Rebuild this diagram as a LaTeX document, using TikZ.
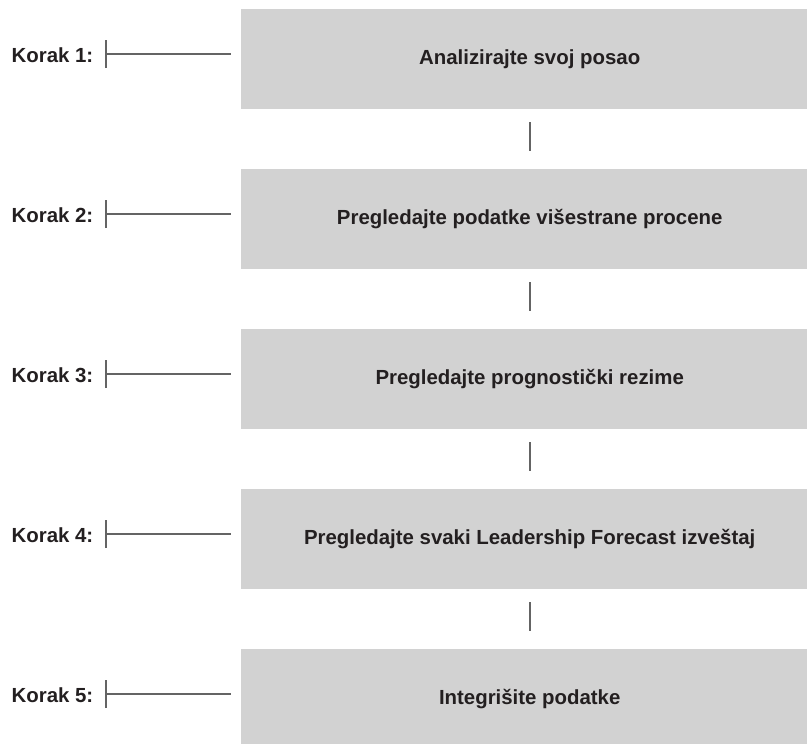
\documentclass[tikz,border=0pt]{standalone}
\usepackage{fontspec}
\setmainfont{Liberation Sans}
\definecolor{boxgray}{RGB}{210,210,210}
\definecolor{linegray}{RGB}{100,100,100}
\definecolor{txt}{RGB}{35,31,32}
\tikzset{
  stepbox/.style={draw=none, fill=boxgray, minimum width=577pt, minimum height=100pt, inner sep=0pt, anchor=north west, text=txt, font=\fontsize{20.4}{24}\selectfont\bfseries},
  korak/.style={anchor=east, inner sep=0pt, text=txt, font=\fontsize{20.4}{24}\selectfont\bfseries},
  conn/.style={draw=linegray, line width=2pt},
}
\begin{document}
\begin{tikzpicture}[x=1pt,y=-1pt]
\useasboundingbox (0,0) rectangle (807,744);
\clip (0,0) rectangle (807,744);
\foreach \i/\t in {1/Analizirajte svoj posao,2/Pregledajte podatke višestrane procene,3/Pregledajte prognostički rezime,4/Pregledajte svaki Leadership Forecast izveštaj,5/Integrišite podatke}{
  \pgfmathsetmacro{\yy}{9+160*(\i-1)}
  \node[stepbox] (b\i) at (241,\yy) {\t};
  \node[korak] (k\i) at (93.5,\yy+46.5) {Korak \i:};
  \coordinate (ta\i) at (106,\yy+45);
  \coordinate (tb\i) at (231,\yy+45);
  \draw[conn] (ta\i) -- (tb\i);
  \draw[conn] ([yshift=-14pt]ta\i) -- ([yshift=14pt]ta\i);
}
\foreach \i [evaluate=\i as \j using int(\i+1)] in {1,2,3,4}{
  \draw[conn] ([yshift=-13pt]b\i.south) -- ([yshift=18pt]b\j.north);
}
\end{tikzpicture}
\end{document}
